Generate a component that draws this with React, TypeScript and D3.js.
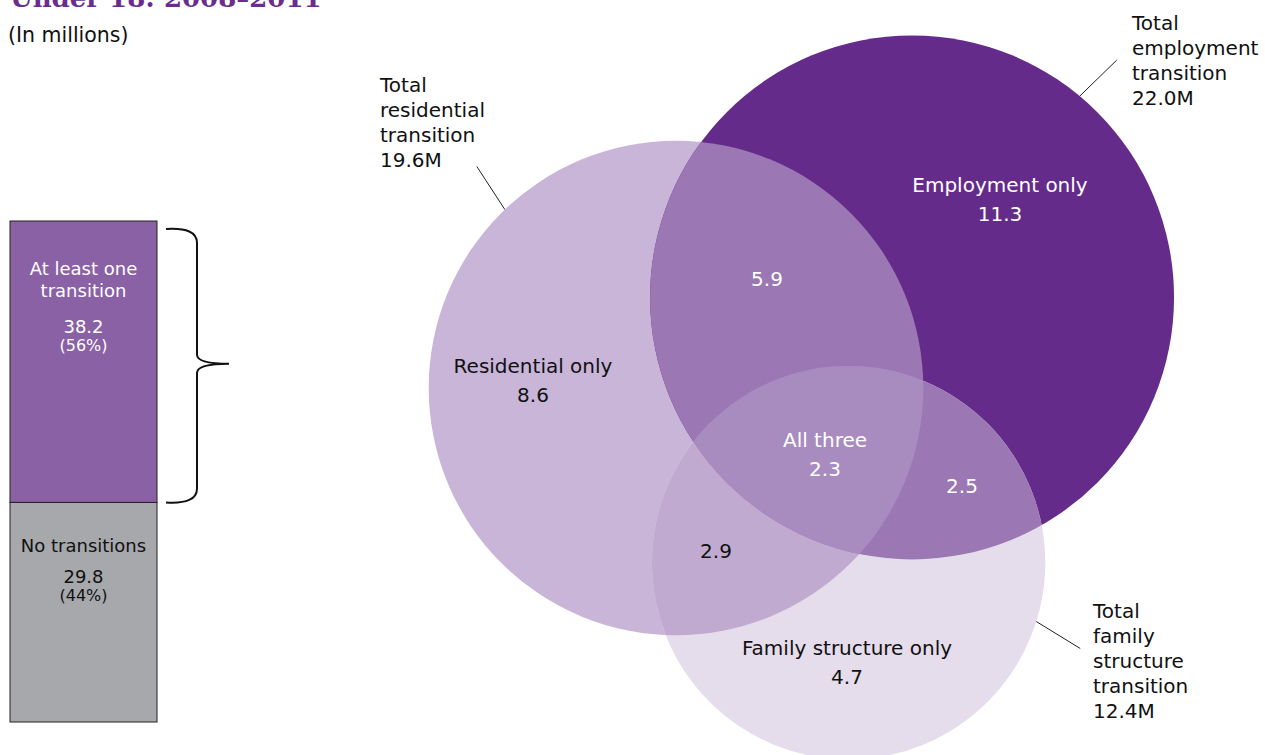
import React from 'react';
import * as d3 from 'd3';

// left stacked bar
const barCategories = [['At least one', 'transition'], ['No transitions']];
const barValues = [38.2, 29.8];
const barShares = ['56%', '44%'];

// venn sets: residential, employment, family structure
const setKeys = ['R', 'E', 'F'];
const setNames = ['residential', 'employment', 'family structure'];
const setTotals = [19.6, 22.0, 12.4];

// venn regions
const regionKeys = ['R', 'E', 'F', 'RE', 'RF', 'EF', 'REF'];
const regionNames = ['Residential only', 'Employment only', 'Family structure only', '', '', '', 'All three'];
const regionValues = [8.6, 11.3, 4.7, 5.9, 2.9, 2.5, 2.3];

const W = 1265;
const H = 755;
const FONT = '"DejaVu Sans", sans-serif';

const regionColor: Record<string, string> = {
  R: '#c8b5d8', E: '#652b8a', F: '#e5dcec',
  RE: '#9b77b3', RF: '#c0aad0', EF: '#9b77b3', REF: '#a88cbf',
};
const regionText: Record<string, string> = {
  R: '#111', E: '#fff', F: '#111', RE: '#fff', RF: '#111', EF: '#fff', REF: '#fff',
};
// label anchor (centre x, first baseline)
const regionPos: Record<string, [number, number]> = {
  R: [533, 373], E: [1000, 192], F: [847, 655],
  RE: [767, 286], RF: [716, 558], EF: [962, 493], REF: [825, 447],
};
// leader line: angle on circle, outward offset, text x / first baseline
const leader: Record<string, { ang: number; dx: number; dy: number; tx: number; ty: number }> = {
  R: { ang: -133.8, dx: -28, dy: -43, tx: 380, ty: 92 },
  E: { ang: -50.2, dx: 37, dy: -36, tx: 1132, ty: 30 },
  F: { ang: 17.4, dx: 44, dy: 27, tx: 1093, ty: 618 },
};

function lensArea(r1: number, r2: number, d: number) {
  if (d >= r1 + r2) return 0;
  if (d <= Math.abs(r1 - r2)) return Math.PI * Math.min(r1, r2) ** 2;
  const a = r1 * r1 * Math.acos((d * d + r1 * r1 - r2 * r2) / (2 * d * r1));
  const b = r2 * r2 * Math.acos((d * d + r2 * r2 - r1 * r1) / (2 * d * r2));
  const c = 0.5 * Math.sqrt((-d + r1 + r2) * (d + r1 - r2) * (d - r1 + r2) * (d + r1 + r2));
  return a + b - c;
}

function solveDistance(r1: number, r2: number, area: number) {
  let lo = Math.abs(r1 - r2), hi = r1 + r2;
  for (let i = 0; i < 60; i++) {
    const mid = (lo + hi) / 2;
    if (lensArea(r1, r2, mid) > area) lo = mid; else hi = mid;
  }
  return (lo + hi) / 2;
}

export default function App() {
  const val = (k: string) => regionValues[regionKeys.indexOf(k)];

  // circle sizes, area proportional
  const rScale = d3.scaleSqrt().domain([0, 22]).range([0, 262]);
  const pxPerUnit = (Math.PI * rScale(22) ** 2) / 22;
  const radius = setTotals.map(t => rScale(t));
  const [rR, rE, rF] = radius;
  const dRE = solveDistance(rR, rE, (val('RE') + val('REF')) * pxPerUnit);
  const dRF = solveDistance(rR, rF, (val('RF') + val('REF')) * pxPerUnit);
  const dEF = solveDistance(rE, rF, (val('EF') + val('REF')) * pxPerUnit);

  const origin: [number, number] = [676, 388];
  const theta = (-21 * Math.PI) / 180;
  const alpha = Math.acos((dRF * dRF + dRE * dRE - dEF * dEF) / (2 * dRF * dRE));
  const centers: [number, number][] = [
    origin,
    [origin[0] + dRE * Math.cos(theta), origin[1] + dRE * Math.sin(theta)],
    [origin[0] + dRF * Math.cos(theta + alpha), origin[1] + dRF * Math.sin(theta + alpha)],
  ];
  const circ = (i: number, fill: string) => (
    <circle cx={centers[i][0]} cy={centers[i][1]} r={radius[i]} fill={fill} />
  );

  // bar
  const total = d3.sum(barValues);
  const y = d3.scaleLinear().domain([0, total]).range([221, 722]);
  const stack = d3.cumsum(barValues);
  const barX = 10;
  const barW = 147;
  const barFill = ['#8a61a5', '#a7a8ab'];
  const barInk = ['#fff', '#111'];
  const barOffsets = [[54, 76, 112, 130], [50, 81, 99]];

  const yTop = y(0);
  const yMid = y(stack[0]);
  const braceX = 197;
  const tipY = (yTop + yMid) / 2 + 2;
  const bracePath = d3.path();
  bracePath.moveTo(166, yTop + 8);
  bracePath.quadraticCurveTo(braceX, yTop + 6, braceX, yTop + 22);
  bracePath.lineTo(braceX, tipY - 9);
  bracePath.quadraticCurveTo(braceX, tipY, 229, tipY);
  bracePath.moveTo(166, yMid);
  bracePath.quadraticCurveTo(braceX, yMid + 2, braceX, yMid - 14);
  bracePath.lineTo(braceX, tipY + 9);
  bracePath.quadraticCurveTo(braceX, tipY, 229, tipY);

  return (
    <svg width={W} height={H} style={{ position: 'absolute', left: 0, top: 0, background: '#fff' }}>
      <text x={10} y={7} fontFamily='"DejaVu Serif", serif' fontWeight="bold" fontSize={26} fill="#6a2d8f">
        Under 18: 2008–2011
      </text>
      <text x={8} y={42} fontFamily={FONT} fontSize={20.5} fill="#111">(In millions)</text>

      {/* stacked bar */}
      {barValues.map((v, i) => {
        const y0 = y(i === 0 ? 0 : stack[i - 1]);
        const y1 = y(stack[i]);
        const cx = barX + barW / 2;
        const lines = [...barCategories[i], v.toFixed(1), `(${barShares[i]})`];
        return (
          <g key={i}>
            <rect x={barX} y={y0} width={barW} height={y1 - y0} fill={barFill[i]} stroke="#222" strokeWidth={1} />
            {lines.map((t, j) => (
              <text key={j} x={cx} y={y0 + barOffsets[i][j]} textAnchor="middle" fontFamily={FONT}
                fontSize={j === lines.length - 1 ? 16 : 18} fill={barInk[i]}>{t}</text>
            ))}
          </g>
        );
      })}
      <path d={bracePath.toString()} fill="none" stroke="#111" strokeWidth={2} />

      {/* venn */}
      <defs>
        <clipPath id="clipR"><circle cx={centers[0][0]} cy={centers[0][1]} r={radius[0]} /></clipPath>
        <clipPath id="clipE"><circle cx={centers[1][0]} cy={centers[1][1]} r={radius[1]} /></clipPath>
      </defs>
      {circ(0, regionColor.R)}
      {circ(1, regionColor.E)}
      {circ(2, regionColor.F)}
      <g clipPath="url(#clipR)">
        {circ(1, regionColor.RE)}
        {circ(2, regionColor.RF)}
      </g>
      <g clipPath="url(#clipE)">
        {circ(2, regionColor.EF)}
        <g clipPath="url(#clipR)">{circ(2, regionColor.REF)}</g>
      </g>

      {regionKeys.map((k, i) => {
        const [x, by] = regionPos[k];
        const lines = regionNames[i] ? [regionNames[i], regionValues[i].toFixed(1)] : [regionValues[i].toFixed(1)];
        return (
          <g key={k}>
            {lines.map((t, j) => (
              <text key={j} x={x} y={by + j * 29} textAnchor="middle" fontFamily={FONT} fontSize={20}
                fill={regionText[k]}>{t}</text>
            ))}
          </g>
        );
      })}

      {setKeys.map((k, i) => {
        const L = leader[k];
        const a = (L.ang * Math.PI) / 180;
        const px = centers[i][0] + radius[i] * Math.cos(a);
        const py = centers[i][1] + radius[i] * Math.sin(a);
        const lines = ['Total', ...setNames[i].split(' '), 'transition', `${setTotals[i].toFixed(1)}M`];
        return (
          <g key={k}>
            <line x1={px} y1={py} x2={px + L.dx} y2={py + L.dy} stroke="#222" strokeWidth={1} />
            {lines.map((t, j) => (
              <text key={j} x={L.tx} y={L.ty + j * 25} fontFamily={FONT} fontSize={20} fill="#111">{t}</text>
            ))}
          </g>
        );
      })}
    </svg>
  );
}
